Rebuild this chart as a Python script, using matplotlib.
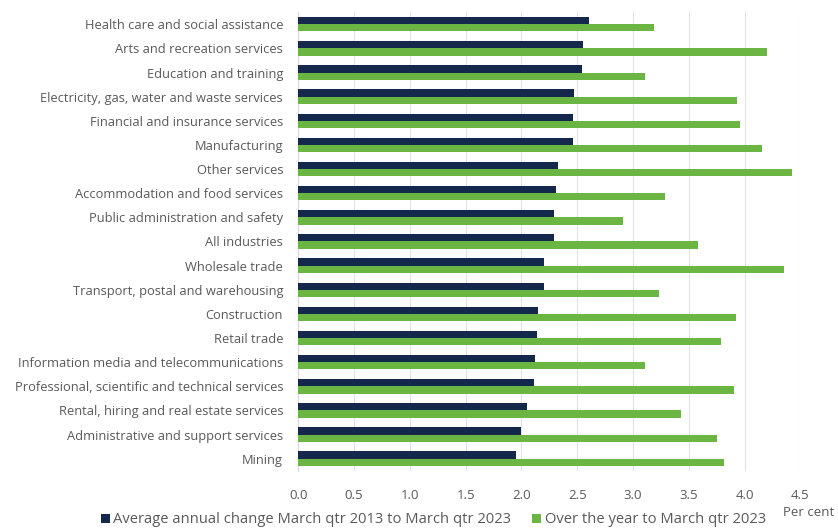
import numpy as np
import matplotlib.pyplot as plt

# industries, top to bottom
industries = ["Health care and social assistance", "Arts and recreation services",
              "Education and training", "Electricity, gas, water and waste services",
              "Financial and insurance services", "Manufacturing", "Other services",
              "Accommodation and food services", "Public administration and safety",
              "All industries", "Wholesale trade", "Transport, postal and warehousing",
              "Construction", "Retail trade", "Information media and telecommunications",
              "Professional, scientific and technical services",
              "Rental, hiring and real estate services", "Administrative and support services",
              "Mining"]
avg_10yr = [2.61, 2.55, 2.54, 2.47, 2.46, 2.46, 2.33, 2.31, 2.29, 2.29,
            2.20, 2.20, 2.15, 2.14, 2.12, 2.11, 2.05, 2.00, 1.95]
over_year = [3.19, 4.20, 3.11, 3.93, 3.96, 4.16, 4.43, 3.29, 2.91, 3.58,
             4.35, 3.23, 3.92, 3.79, 3.11, 3.91, 3.43, 3.75, 3.82]
xticks = np.arange(0, 4.51, 0.5)

dark = "#14284b"
green = "#6bb542"
txt = "#595959"

plt.rcParams['font.family'] = ['Open Sans', 'DejaVu Sans']

fig = plt.figure(figsize=(8.38, 5.29), dpi=100)
ax = fig.add_axes([0.356, 0.110, 0.599, 0.867])

y = np.arange(len(industries))
h = 0.3
ax.barh(y - h/2, avg_10yr, height=h, color=dark,
        label="Average annual change March qtr 2013 to March qtr 2023", zorder=3)
ax.barh(y + h/2, over_year, height=h, color=green,
        label="Over the year to March qtr 2023", zorder=3)

ax.set_ylim(len(industries) - 0.5, -0.5)
ax.set_xlim(0, 4.5)
ax.set_yticks(y)
ax.set_yticklabels(industries, fontsize=9.3, color=txt)
ax.set_xticks(xticks)
ax.set_xticklabels(["%.1f" % v for v in xticks], fontsize=9.5, color=txt)
ax.tick_params(axis='both', length=0)
ax.tick_params(axis='x', pad=13)
ax.tick_params(axis='y', pad=11)
ax.grid(axis='x', color="#e3e3e3", linewidth=0.8, zorder=0)
for s in ["top", "right", "bottom"]:
    ax.spines[s].set_visible(False)
ax.spines["left"].set_color("#d9d9d9")

fig.text(0.995, 0.019, "Per cent", ha="right", va="bottom", fontsize=9.5, color=txt)
fig.legend(loc="lower center", bbox_to_anchor=(0.517, -0.022), ncol=2, frameon=False,
           fontsize=10.6, handlelength=0.6, handleheight=0.6, handletextpad=0.25,
           columnspacing=1.4, labelcolor=txt)

fig.savefig("out.png", dpi=100)
